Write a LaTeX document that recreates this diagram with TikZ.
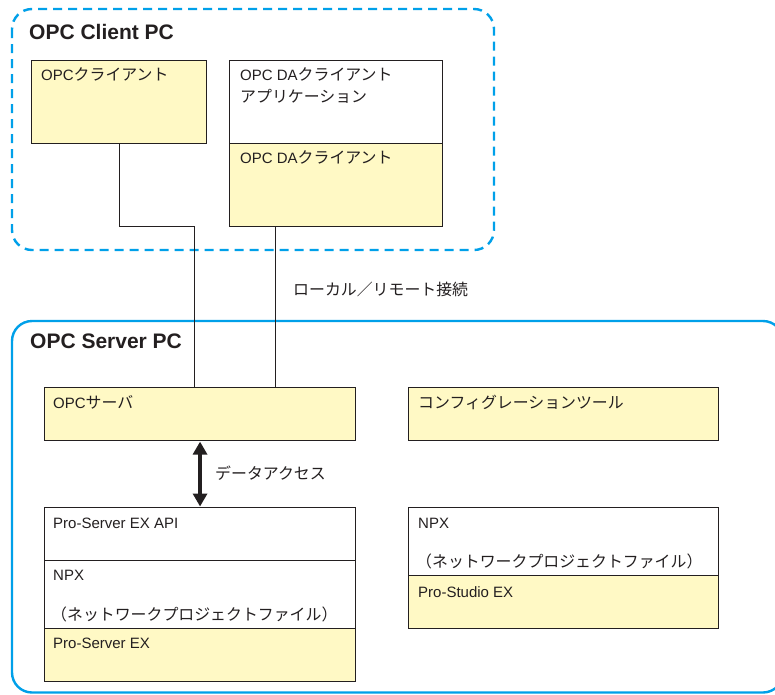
\documentclass[tikz,border=0pt]{standalone}
\usepackage{fontspec}
\setmainfont{Liberation Sans}
\newfontfamily\jpfont[Scale=1.06]{Noto Sans CJK JP}
\newcommand\J[1]{{\jpfont #1}}
\usetikzlibrary{arrows.meta}
\definecolor{boxyellow}{RGB}{255,249,197}
\definecolor{pccyan}{RGB}{0,160,233}
\definecolor{inkgray}{RGB}{35,31,32}
\tikzset{
  pcframe/.style={draw=pccyan, line width=2.4pt, rounded corners=20pt},
  ybox/.style={draw=inkgray, line width=1.1pt, fill=boxyellow, rectangle, anchor=north west, inner sep=0pt},
  wbox/.style={draw=inkgray, line width=1.1pt, fill=white, rectangle, anchor=north west, inner sep=0pt},
  lbl/.style={anchor=base west, inner sep=0pt, text=inkgray, font=\fontsize{15}{22}\selectfont},
  ttl/.style={anchor=base west, inner sep=0pt, text=inkgray, font=\fontsize{21}{24}\selectfont\bfseries},
  conn/.style={draw=inkgray, line width=1pt},
  dataarrow/.style={draw=inkgray, line width=3.2pt, {Triangle[length=13pt,width=14pt]}-{Triangle[length=13pt,width=14pt]}, shorten <=0.5pt, shorten >=0.5pt}
}
\begin{document}
\begin{tikzpicture}[x=1pt,y=-1pt]
\useasboundingbox (0,0) rectangle (775,694);
\clip (0,0) rectangle (775,694);
\fill[white] (0,0) rectangle (775,694);

% frames
\draw[pcframe, dash pattern=on 9pt off 6pt] (12,9) rectangle (494,250);
\draw[pcframe] (12,321) rectangle (783,692.5);
\node[ttl] (tclient) at (29,39) {OPC Client PC};
\node[ttl] (tserver) at (30,348) {OPC Server PC};

% client boxes
\node[ybox, minimum width=175pt, minimum height=83pt] (cl1) at (31,60) {};
\node[wbox, minimum width=213pt, minimum height=83pt] (daapp) at (229,60) {};
\node[ybox, minimum width=213pt, minimum height=83pt] (dacl) at (229,143) {};
\node[lbl] (lcl1) at (41,80) {OPC\J{クライアント}};
\node[lbl] (ldaapp1) at (240,80) {OPC DA\J{クライアント}};
\node[lbl] (ldaapp2) at (240,102) {\J{アプリケーション}};
\node[lbl] (ldacl) at (240,163) {OPC DA\J{クライアント}};

% server boxes
\node[ybox, minimum width=311pt, minimum height=53pt] (srv) at (44,387) {};
\node[ybox, minimum width=310pt, minimum height=53pt] (cfg) at (408,387) {};
\node[wbox, minimum width=311pt, minimum height=53pt] (api) at (44,507) {};
\node[wbox, minimum width=311pt, minimum height=68pt] (npxl) at (44,560) {};
\node[ybox, minimum width=311pt, minimum height=53pt] (pse) at (44,628) {};
\node[wbox, minimum width=310pt, minimum height=68pt] (npxr) at (408,507) {};
\node[ybox, minimum width=310pt, minimum height=53pt] (pst) at (408,575) {};

\node[lbl] (lsrv) at (53,408) {OPC\J{サーバ}};
\node[lbl] (lcfg) at (418,408) {\J{コンフィグレーションツール}};
\node[lbl] (lapi) at (53,528) {Pro-Server EX API};
\node[lbl] (lnpxl1) at (53,580) {NPX};
\node[lbl] (lnpxl2) at (51,620) {\J{（ネットワークプロジェクトファイル）}};
\node[lbl] (lpse) at (53,648) {Pro-Server EX};
\node[lbl] (lnpxr1) at (418,528) {NPX};
\node[lbl] (lnpxr2) at (416,567) {\J{（ネットワークプロジェクトファイル）}};
\node[lbl] (lpst) at (418,597) {Pro-Studio EX};

% connectors
\coordinate (j1) at (194,226);
\coordinate (j2) at (275.5,226);
\draw[conn] (cl1.south) |- (j1) -- (j1 |- srv.north);
\draw[conn] (j2) -- (j2 |- srv.north);
\node[lbl] (lconn) at (293,295) {\J{ローカル／リモート接続}};

\draw[dataarrow] (srv.south) -- (api.north);
\node[lbl] (ldata) at (215,479) {\J{データアクセス}};
\end{tikzpicture}
\end{document}
